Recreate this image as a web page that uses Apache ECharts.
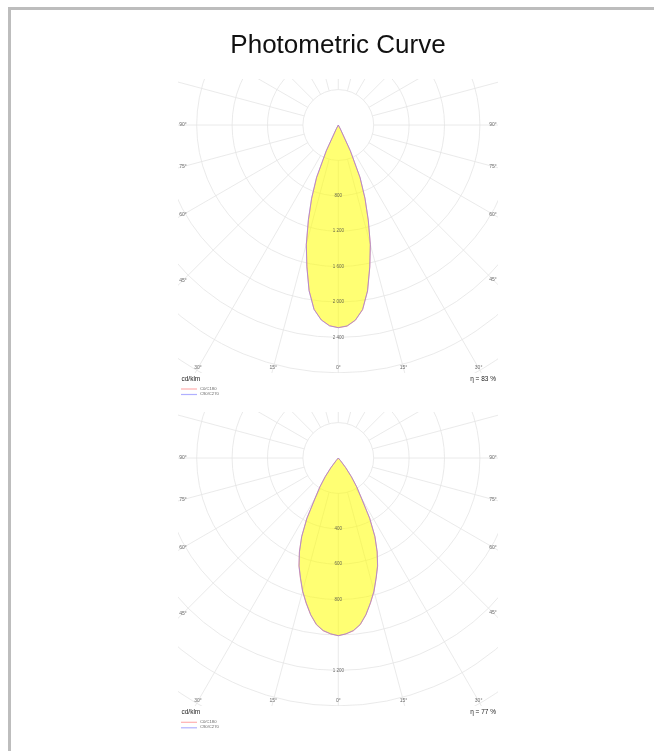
<!DOCTYPE html>
<html>
<head>
<meta charset="utf-8">
<script src="https://cdn.jsdelivr.net/npm/echarts@6/dist/echarts.min.js"></script>
<style>
  html, body { margin: 0; padding: 0; background: #fff; }
  body { width: 654px; height: 751px; position: relative; overflow: hidden; font-family: "Liberation Sans", Arial, sans-serif; }
  #frame { position: absolute; left: 8px; top: 7px; width: 700px; height: 800px; border-top: 3px solid #bdbdbd; border-left: 3px solid #bdbdbd; }
  #bg { position: absolute; left: 0; top: 0; width: 654px; height: 751px; }
  .plot { position: absolute; left: 178px; width: 320px; height: 294px; }
  #p1 { top: 79px; }
  #p2 { top: 412px; }
</style>
</head>
<body>
<div id="frame"></div>
<div id="bg"></div>
<div id="p1" class="plot"></div>
<div id="p2" class="plot"></div>
<script>
// ---------------- data ----------------
const titleText = 'Photometric Curve';
const gammaAngles = [0, 2.5, 5, 7.5, 10, 12.5, 15, 17.5, 20, 22.5, 25, 27.5, 30, 32.5, 35, 37.5, 40, 42.5, 45, 50, 60, 70, 80, 90];

// chart 1 (cd/klm)
const c1_C0   = [2290, 2275, 2215, 2105, 1905, 1645, 1400, 1125, 880, 640, 320, 50, 0, 0, 0, 0, 0, 0, 0, 0, 0, 0, 0, 0];
const c1_C180 = [2290, 2270, 2210, 2100, 1900, 1640, 1395, 1120, 878, 638, 318, 50, 0, 0, 0, 0, 0, 0, 0, 0, 0, 0, 0, 0];
const c1_C90  = [2290, 2272, 2212, 2102, 1902, 1642, 1398, 1128, 884, 645, 325, 52, 0, 0, 0, 0, 0, 0, 0, 0, 0, 0, 0, 0];
const c1_C270 = [2290, 2272, 2212, 2102, 1902, 1642, 1398, 1128, 884, 645, 325, 52, 0, 0, 0, 0, 0, 0, 0, 0, 0, 0, 0, 0];
const c1_radTicks  = [800, 1200, 1600, 2000, 2400];
const c1_radLabels = ['800', '1 200', '1 600', '2 000', '2 400'];
const c1_eta = 'η = 83 %';

// chart 2 (cd/klm)
const c2_C0   = [1004, 995, 980, 950, 900, 840, 780, 712, 650, 575, 490, 385, 262, 195, 130, 70, 20, 0, 0, 0, 0, 0, 0, 0];
const c2_C180 = [1004, 995, 980, 950, 900, 840, 780, 712, 650, 575, 490, 385, 262, 195, 130, 70, 20, 0, 0, 0, 0, 0, 0, 0];
const c2_C90  = [1004, 994, 978, 948, 898, 838, 778, 710, 648, 573, 488, 383, 260, 193, 128, 68, 18, 0, 0, 0, 0, 0, 0, 0];
const c2_C270 = [1004, 994, 978, 948, 898, 838, 778, 710, 648, 573, 488, 383, 260, 193, 128, 68, 18, 0, 0, 0, 0, 0, 0, 0];
const c2_radTicks  = [400, 600, 800, 1200];
const c2_radLabels = ['400', '600', '800', '1 200'];
const c2_eta = 'η = 77 %';

// angle labels (signed: negative = left/C180 side, positive = right/C0 side)
const angleLabelAngles = [-90, -75, -60, -45, -30, -15, 0, 15, 30, 45, 60, 75, 90];
const unitText = 'cd/klm';
const legendNames = ['C0/C180', 'C90/C270'];
// --------------------------------------

const W = 320, H = 294;
const CX = 160.3, CY = 46;
const R_IN = 35.4, R_OUT = 318.6;
const GRID = '#e4e4e4';
const FILL = 'rgba(255,255,0,0.55)';
const COL_A = '#f08080', COL_B = '#8a80f0';
const LBL = '#444';

// angle axis: min -180 at top, clockwise -> -90 at right, 0 at bottom, 90 at left
function polarAngle(signedGamma) { return -signedGamma; } // positive signed = right side

function halfCurve(values, side) { // side: +1 right, -1 left
  const pts = [];
  for (let i = 0; i < gammaAngles.length; i++) {
    pts.push([values[i], polarAngle(side * gammaAngles[i])]);
  }
  return pts;
}
function planeCurve(leftVals, rightVals) {
  const left = halfCurve(leftVals, -1).reverse(); // from 90 (left) down to 0
  const right = halfCurve(rightVals, 1).slice(1); // from 0 up to 90 (right)
  return left.concat(right);
}

function buildPlot(el, cfg) {
  const chart = echarts.init(el, null, { renderer: 'canvas', width: W, height: H });
  const k = R_IN / cfg.min; // px per unit
  const insetX = 5, insetB = 5;
  const hxL = CX - insetX, hxR = (W - CX) - insetX, hy = (H - CY) - insetB;
  const labelPts = angleLabelAngles.map(s => {
    const rad = Math.abs(s) * Math.PI / 180;
    const sx = Math.sin(rad), cy = Math.cos(rad);
    const hx = s < 0 ? hxL : hxR;
    let t = Infinity;
    if (sx > 1e-9) t = Math.min(t, hx / sx);
    if (cy > 1e-9) t = Math.min(t, hy / cy);
    return { value: [t / k, polarAngle(s)], name: Math.abs(s) + '°' };
  });
  const radLabelPts = cfg.radTicks.map((v, i) => ({ value: [v, 0], name: cfg.radLabels[i] }));
  const curveA = planeCurve(cfg.C180, cfg.C0);
  const curveB = planeCurve(cfg.C270, cfg.C90);
  const curves = [
    { pts: curveA, color: COL_A, width: 0.8 },
    { pts: curveB, color: COL_B, width: 0.6 }
  ];

  chart.setOption({
    animation: false,
    polar: { center: [CX, CY], radius: [R_IN, R_OUT] },
    angleAxis: {
      type: 'value', min: -180, max: 180, interval: 15, startAngle: 90, clockwise: true,
      axisLine: { show: false }, axisTick: { show: false }, axisLabel: { show: false },
      splitLine: { show: true, lineStyle: { color: GRID, width: 0.8 } }
    },
    radiusAxis: {
      type: 'value', min: cfg.min, max: cfg.max, interval: cfg.interval,
      axisLine: { show: false }, axisTick: { show: false }, axisLabel: { show: false },
      splitLine: { show: true, lineStyle: { color: GRID, width: 0.8 } }
    },
    series: [
      {
        type: 'custom', coordinateSystem: 'polar', z: 1, clip: false, silent: true,
        data: [[0, 0]],
        renderItem: function (params, api) {
          const fillPts = curveA.map(p => api.coord(p));
          const children = [
            { type: 'polygon', shape: { points: fillPts }, style: { fill: FILL, stroke: null } }
          ];
          curves.forEach(c => {
            children.push({
              type: 'polyline', shape: { points: c.pts.map(p => api.coord(p)) },
              style: { fill: null, stroke: c.color, lineWidth: c.width }
            });
          });
          return { type: 'group', children: children };
        }
      },
      {
        type: 'scatter', coordinateSystem: 'polar', data: labelPts, symbolSize: 1, z: 4, silent: true,
        itemStyle: { color: 'rgba(0,0,0,0)' },
        label: { show: true, position: 'inside', formatter: p => p.name, fontSize: 5, color: LBL, fontFamily: 'Liberation Sans' }
      },
      {
        type: 'scatter', coordinateSystem: 'polar', data: radLabelPts, symbolSize: 1, z: 4, silent: true,
        itemStyle: { color: 'rgba(0,0,0,0)' },
        label: { show: true, position: 'inside', formatter: p => p.name, fontSize: 4.5, color: LBL, fontFamily: 'Liberation Sans' }
      }
    ]
  });
  return chart;
}

buildPlot(document.getElementById('p1'), { min: 400, max: 3600, interval: 400,
  C0: c1_C0, C180: c1_C180, C90: c1_C90, C270: c1_C270, radTicks: c1_radTicks, radLabels: c1_radLabels });
buildPlot(document.getElementById('p2'), { min: 200, max: 1800, interval: 200,
  C0: c2_C0, C180: c2_C180, C90: c2_C90, C270: c2_C270, radTicks: c2_radTicks, radLabels: c2_radLabels });

// background: title, unit, efficiency, legend
const bg = echarts.init(document.getElementById('bg'), null, { renderer: 'canvas', width: 654, height: 751 });
function footer(cy, eta) {
  const x0 = 178;
  return [
    { type: 'text', left: x0 + 3.5, top: cy + 254.3 - 4, style: { text: unitText, fontSize: 6.5, fill: '#222', fontFamily: 'Liberation Sans' } },
    { type: 'text', right: 654 - 496, top: cy + 254.3 - 4, style: { text: eta, fontSize: 6.5, fill: '#222', fontFamily: 'Liberation Sans', align: 'right' } },
    { type: 'line', shape: { x1: x0 + 3, y1: cy + 264, x2: x0 + 19, y2: cy + 264 }, style: { stroke: '#ffb0b0', lineWidth: 1.2 } },
    { type: 'text', left: x0 + 22, top: cy + 264 - 2.5, style: { text: legendNames[0], fontSize: 4.2, fill: '#666', fontFamily: 'Liberation Sans' } },
    { type: 'line', shape: { x1: x0 + 3, y1: cy + 269.5, x2: x0 + 19, y2: cy + 269.5 }, style: { stroke: '#b0b0ff', lineWidth: 1.2 } },
    { type: 'text', left: x0 + 22, top: cy + 269.5 - 2.5, style: { text: legendNames[1], fontSize: 4.2, fill: '#666', fontFamily: 'Liberation Sans' } }
  ];
}
bg.setOption({
  animation: false,
  graphic: [
    { type: 'text', x: 338, y: 46, style: { text: titleText, fontSize: 26, fill: '#111', fontFamily: 'Liberation Sans', align: 'center', verticalAlign: 'middle' } }
  ].concat(footer(125, c1_eta)).concat(footer(458.3, c2_eta))
});
</script>
</body>
</html>
